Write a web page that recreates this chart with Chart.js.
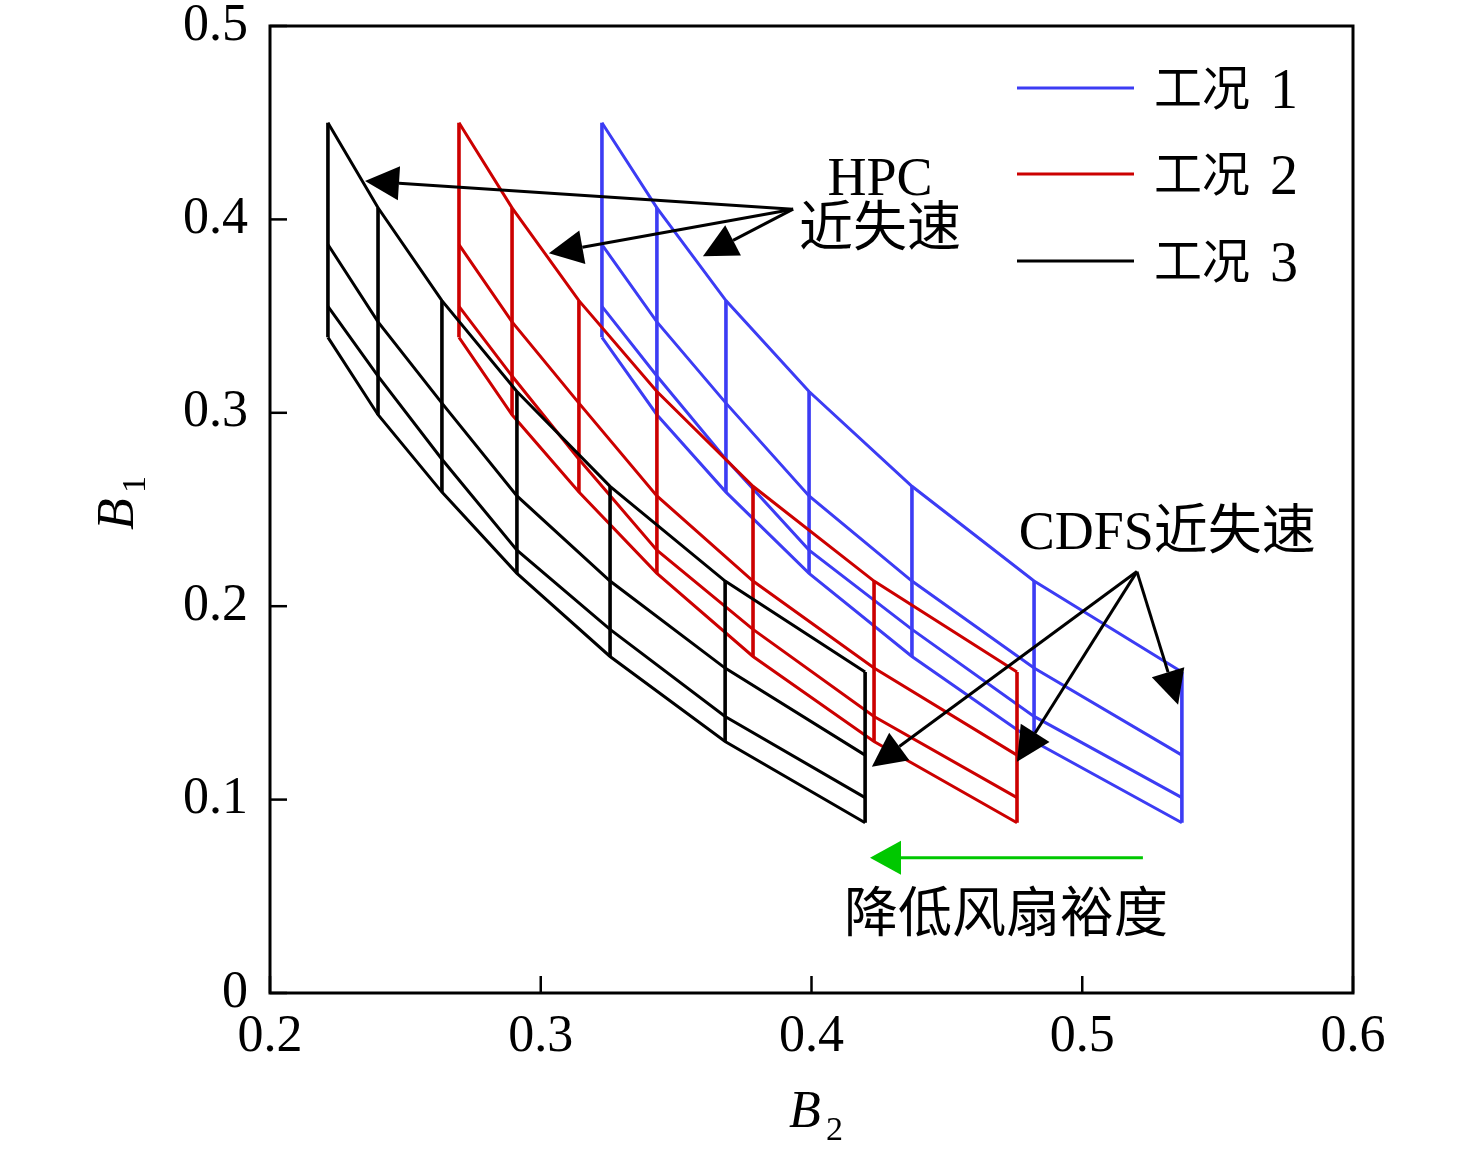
<!DOCTYPE html>
<html>
<head>
<meta charset="utf-8">
<script src="https://cdn.jsdelivr.net/npm/chart.js@4.4.1/dist/chart.umd.min.js"></script>
<style>
  html, body { margin: 0; padding: 0; background: #fff; }
  canvas { display: block; }
</style>
</head>
<body>
<canvas id="chart" width="1476" height="1160" style="width:1476px;height:1160px"></canvas>
<script>
// B2 positions of the seven speed lines, per operating condition
const b2Cond1 = [0.3226, 0.3429, 0.3684, 0.3991, 0.4371, 0.4822, 0.5368];
const b2Cond2 = [0.2698, 0.2894, 0.3141, 0.3429, 0.3784, 0.4231, 0.4759];
const b2Cond3 = [0.2214, 0.2399, 0.2635, 0.2912, 0.3256, 0.3681, 0.4198];

// B1 of the four working lines at each speed line (same for all conditions)
const b1Line1 = [0.450, 0.406, 0.358, 0.311, 0.262, 0.213, 0.166];
const b1Line2 = [0.387, 0.347, 0.305, 0.257, 0.213, 0.168, 0.123];
const b1Line3 = [0.355, 0.319, 0.276, 0.229, 0.188, 0.143, 0.101];
const b1Line4 = [0.339, 0.299, 0.259, 0.217, 0.174, 0.130, 0.088];

const condNames = ["工况", "工况", "工况"];
const condNumbers = ["1", "2", "3"];
const condColors = ["#3c3cf4", "#cc0000", "#000000"];

const xTickValues = [0.2, 0.3, 0.4, 0.5, 0.6];
const yTickValues = [0, 0.1, 0.2, 0.3, 0.4, 0.5];

// annotation arrows, in data units: [fromX, fromY, toX, toY]
const hpcArrows = [
  [0.3932, 0.4053, 0.2351, 0.4198],
  [0.3932, 0.4053, 0.3030, 0.3825],
  [0.3932, 0.4053, 0.3599, 0.3810]
];
const cdfsArrows = [
  [0.5202, 0.2179, 0.4223, 0.1170],
  [0.5202, 0.2179, 0.4759, 0.1196],
  [0.5202, 0.2179, 0.5354, 0.1491]
];
const fanArrow = [0.5224, 0.0699, 0.4216, 0.0699];

const SERIF = '"Liberation Serif", "Noto Sans CJK SC", serif';

function pts(xs, ys) {
  return xs.map((x, i) => ({ x: x, y: ys[i] }));
}

// vertical speed lines, one dataset broken by null gaps
function speedLines(xs) {
  const out = [];
  xs.forEach((x, i) => {
    out.push({ x: x, y: b1Line1[i] });
    out.push({ x: x, y: b1Line4[i] });
    out.push({ x: x, y: null });
  });
  return out;
}

const datasets = [];
[b2Cond3, b2Cond2, b2Cond1].forEach((xs, k) => {
  const color = condColors[2 - k];
  [b1Line1, b1Line2, b1Line3, b1Line4].forEach(ys => {
    datasets.push({
      data: pts(xs, ys),
      showLine: true,
      borderColor: color,
      borderWidth: 3,
      pointRadius: 0,
      fill: false,
      tension: 0
    });
  });
  datasets.push({
    data: speedLines(xs),
    showLine: true,
    spanGaps: false,
    borderColor: color,
    borderWidth: 3.6,
    pointRadius: 0,
    fill: false
  });
});

function arrow(ctx, x0, y0, x1, y1, color, len, half, lw) {
  const ang = Math.atan2(y1 - y0, x1 - x0);
  const bx = x1 - len * Math.cos(ang);
  const by = y1 - len * Math.sin(ang);
  ctx.strokeStyle = color;
  ctx.fillStyle = color;
  ctx.lineWidth = lw;
  ctx.beginPath();
  ctx.moveTo(x0, y0);
  ctx.lineTo(bx, by);
  ctx.stroke();
  ctx.beginPath();
  ctx.moveTo(x1, y1);
  ctx.lineTo(bx + half * Math.sin(ang), by - half * Math.cos(ang));
  ctx.lineTo(bx - half * Math.sin(ang), by + half * Math.cos(ang));
  ctx.closePath();
  ctx.fill();
}

const decorPlugin = {
  id: "decor",
  afterDraw(chart) {
    const { ctx, chartArea: a } = chart;
    const x = chart.scales.x, y = chart.scales.y;
    ctx.save();

    // frame and inward ticks
    ctx.strokeStyle = "#000";
    ctx.lineWidth = 3;
    ctx.strokeRect(a.left, a.top, a.right - a.left, a.bottom - a.top);
    ctx.lineWidth = 2.5;
    xTickValues.forEach(v => {
      const px = x.getPixelForValue(v);
      ctx.beginPath(); ctx.moveTo(px, a.bottom); ctx.lineTo(px, a.bottom - 17); ctx.stroke();
    });
    yTickValues.forEach(v => {
      const py = y.getPixelForValue(v);
      ctx.beginPath(); ctx.moveTo(a.left, py); ctx.lineTo(a.left + 17, py); ctx.stroke();
    });

    // arrows
    const toPx = r => [x.getPixelForValue(r[0]), y.getPixelForValue(r[1]),
                       x.getPixelForValue(r[2]), y.getPixelForValue(r[3])];
    hpcArrows.concat(cdfsArrows).forEach(r => {
      const p = toPx(r);
      arrow(ctx, p[0], p[1], p[2], p[3], "#000", 34, 17, 3);
    });
    const g = toPx(fanArrow);
    arrow(ctx, g[0], g[1], g[2], g[3], "#00c800", 31, 17, 3);

    // annotation texts
    ctx.fillStyle = "#000";
    ctx.textAlign = "center";
    ctx.textBaseline = "middle";
    ctx.font = "54px " + SERIF;
    ctx.fillText("HPC", x.getPixelForValue(0.4253), y.getPixelForValue(0.4200));
    ctx.fillText("近失速", x.getPixelForValue(0.4253), y.getPixelForValue(0.3934));
    ctx.fillText("CDFS近失速", x.getPixelForValue(0.5314), y.getPixelForValue(0.2371));
    ctx.fillText("降低风扇裕度", x.getPixelForValue(0.4718), y.getPixelForValue(0.0388));

    // legend
    ctx.textAlign = "left";
    const legY = [88, 174, 261];
    condNames.forEach((name, i) => {
      ctx.strokeStyle = condColors[i];
      ctx.lineWidth = 3;
      ctx.beginPath(); ctx.moveTo(1017, legY[i]); ctx.lineTo(1134, legY[i]); ctx.stroke();
      ctx.fillStyle = "#000";
      ctx.font = "48px " + SERIF;
      ctx.fillText(name, 1154, legY[i] + 4);
      ctx.font = "56px " + SERIF;
      ctx.fillText(condNumbers[i], 1270, legY[i] + 5);
    });

    // axis titles
    ctx.textBaseline = "alphabetic";
    ctx.font = "italic 52px " + SERIF;
    ctx.fillText("B", 789, 1127);
    ctx.font = "34px " + SERIF;
    ctx.fillText("2", 826, 1140);

    ctx.translate(133, 530);
    ctx.rotate(-Math.PI / 2);
    ctx.font = "italic 52px " + SERIF;
    ctx.fillText("B", 0, 0);
    ctx.font = "34px " + SERIF;
    ctx.fillText("1", 37, 12);

    ctx.restore();
  }
};

const tickFont = { family: SERIF, size: 52, lineHeight: 1 };

new Chart(document.getElementById("chart"), {
  type: "scatter",
  data: { datasets: datasets },
  options: {
    responsive: false,
    animation: false,
    layout: { padding: { left: 0, right: 123, top: 26, bottom: 0 } },
    plugins: { legend: { display: false }, tooltip: { enabled: false } },
    scales: {
      x: {
        type: "linear",
        min: 0.2, max: 0.6,
        grid: { display: false, drawTicks: false },
        border: { display: false },
        ticks: {
          stepSize: 0.1, color: "#000", font: tickFont, padding: 18,
          callback: v => v.toFixed(1)
        },
        afterFit: s => { s.height = 167; s.paddingLeft = 0; s.paddingRight = 0; }
      },
      y: {
        type: "linear",
        min: 0, max: 0.5,
        grid: { display: false, drawTicks: false },
        border: { display: false },
        ticks: {
          stepSize: 0.1, color: "#000", font: tickFont, padding: 22,
          callback: v => (Math.abs(v) < 1e-9 ? "0" : v.toFixed(1))
        },
        afterFit: s => { s.width = 270; s.paddingTop = 0; s.paddingBottom = 0; }
      }
    }
  },
  plugins: [decorPlugin]
});
</script>
</body>
</html>
